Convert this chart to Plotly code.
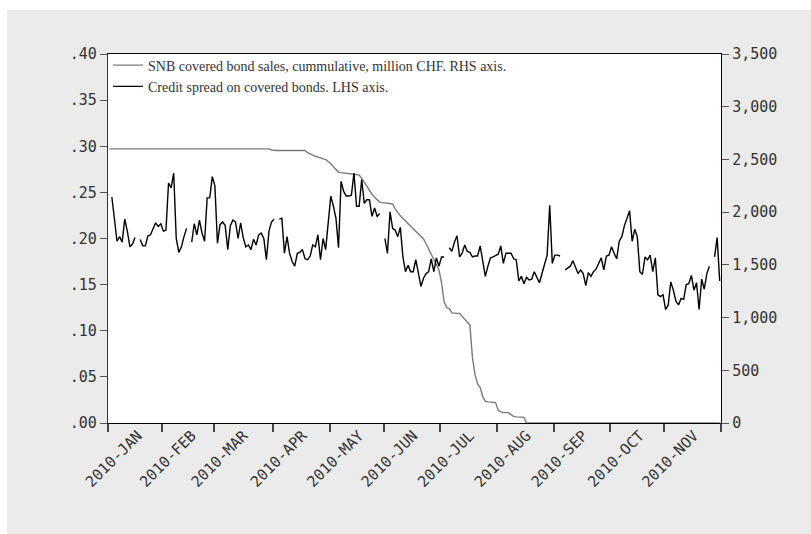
import pandas as pd
import plotly.graph_objects as go

# Business days Jan-Nov 2010 (5-day calendar)
dates = pd.bdate_range("2010-01-01", "2010-11-30")
month_labels = ["2010-JAN", "2010-FEB", "2010-MAR", "2010-APR", "2010-MAY", "2010-JUN",
                "2010-JUL", "2010-AUG", "2010-SEP", "2010-OCT", "2010-NOV"]

left_tickvals = [0.0, 0.05, 0.10, 0.15, 0.20, 0.25, 0.30, 0.35, 0.40]
left_ticktext = [".00", ".05", ".10", ".15", ".20", ".25", ".30", ".35", ".40"]
right_tickvals = [0, 500, 1000, 1500, 2000, 2500, 3000, 3500]

# Credit spread on covered bonds (LHS), None = no observation
spread = [
    None, .245, .220, .197, .202, .196, .221, .208, .191, .194,
    .201, None, .199, .192, .192, .203, .204, .211, .217, .213,
    .216, .208, .209, .260, .255, .271, .200, .185, .191, .202,
    .211, None, .196, .216, .204, .220, .206, .197, .244, .244,
    .267, .257, .195, .215, .218, .214, .188, .214, .220, .218,
    .200, .217, .201, .191, .193, .188, .199, .193, .204, .206,
    .200, .177, .208, .218, .221, None, .221, .222, .184, .202,
    .184, .175, .170, .184, .185, .188, .178, .177, .181, .193,
    .191, .204, .177, .200, .188, .220, .246, .235, .222, .190,
    .262, .251, .246, .246, .247, .271, .235, .235, .264, .238,
    .242, .242, .224, .233, .224, .227, None, .200, .184, .229,
    .211, .209, .202, .212, .180, .164, .171, .164, .164, .177,
    .162, .148, .157, .162, .164, .178, .164, .179, .170, .180,
    .180, None, .190, .186, .196, .203, .180, .184, .193, .186,
    .185, .180, .181, .181, .192, .177, .159, .170, .179, .180,
    .182, .183, .192, .173, .184, .184, .184, .178, .177, .154,
    .159, .151, .158, .155, .156, .164, .158, .152, .162, .173,
    .182, .236, .173, .182, .182, .181, None, .166, .168, .170,
    .176, .168, .162, .166, .162, .149, .163, .159, .164, .167,
    .173, .179, .166, .181, .182, .191, .184, .178, .197, .202,
    .214, .221, .230, .197, .210, .202, .164, .161, .180, .177,
    .182, .164, .179, .139, .137, .139, .123, .128, .153, .144,
    .132, .128, .135, .134, .150, .151, .160, .144, .152, .123,
    .156, .145, .162, .170, None, .180, .201, .154,
]

# SNB covered bond sales, cumulative, million CHF (RHS)
snb = ([2600] * 63 + [2590] + [2585] * 13 + [
    2565, 2550, 2540, 2530, 2525, 2515, 2505, 2500, 2480, 2460,
    2430, 2400, 2380, 2375, 2372, 2370, 2368, 2365, 2362, 2358,
    2352, 2320, 2280, 2245, 2210, 2170, 2140, 2115, 2095, 2090,
    2088, 2085, 2082, 2077, 2030, 1995, 1965, 1940, 1915, 1895,
    1870, 1847, 1820, 1800, 1775, 1745, 1700, 1650, 1610, 1560,
    1510, 1451, 1330, 1150, 1095, 1085, 1045, 1040, 1040, 1040,
    1010, 985, 960, 930, 620, 460, 370, 335, 250, 205,
    200, 198, 196, 193, 120, 105, 100, 99, 98, 80,
    62, 58, 56, 55, 54,
] + [0] * 76)

n = len(dates)
xidx = list(range(n))
snb = snb[:n]
spread = spread[:n]

# month boundaries (tick marks) and label positions
months = dates.to_period("M")
starts = [i for i in range(n) if i == 0 or months[i] != months[i - 1]]
bounds = [s - 0.5 for s in starts] + [n - 0.5]
label_pos = [s + 11.0 for s in starts]

fig = go.Figure()
fig.add_trace(go.Scatter(
    x=xidx, y=snb, mode="lines", yaxis="y",
    name="SNB covered bond sales, cummulative, million CHF. RHS axis.",
    line=dict(color="#7a7a7a", width=1.4),
))
fig.add_trace(go.Scatter(
    x=xidx, y=spread, mode="lines", yaxis="y2", connectgaps=False,
    name="Credit spread on covered bonds. LHS axis.",
    line=dict(color="#000000", width=1.4),
))
# empty helper trace so the month-label axis is drawn
fig.add_trace(go.Scatter(
    x=[], y=[], xaxis="x2", yaxis="y", mode="lines",
    showlegend=False, hoverinfo="skip",
))

tickfont = dict(family="DejaVu Sans Mono", size=15, color="#333333")

fig.update_layout(
    width=811, height=534,
    margin=dict(l=108, r=90, t=54, b=111, autoexpand=False),
    paper_bgcolor="#EBEBEB",
    plot_bgcolor="#FFFFFF",
    showlegend=True,
    legend=dict(
        x=0.0, y=1.012, xanchor="left", yanchor="top",
        bgcolor="rgba(0,0,0,0)", borderwidth=0,
        font=dict(family="Liberation Serif", size=14, color="#333333"),
        itemwidth=30, tracegroupgap=0,
    ),
    xaxis=dict(
        range=[-0.5, n - 0.5], showgrid=False, zeroline=False,
        tickmode="array", tickvals=bounds, ticktext=[""] * len(bounds),
        ticks="outside", ticklen=8, tickwidth=1.5, tickcolor="#444444",
        showline=True, linecolor="#000000", linewidth=1.3, mirror=True,
    ),
    xaxis2=dict(
        overlaying="x", anchor="y", side="bottom",
        range=[-0.5, n - 0.5], showgrid=False, zeroline=False,
        tickmode="array", tickvals=label_pos, ticktext=month_labels,
        tickangle=-45, ticks="", tickfont=tickfont, showline=False,
    ),
    yaxis=dict(
        side="right", range=[0, 3500], tickmode="array", tickvals=right_tickvals,
        tickformat=",d", ticks="outside", ticklen=7, tickcolor="#555555",
        showgrid=False, zeroline=False, tickfont=tickfont,
        showline=True, linecolor="#000000", linewidth=1.3,
    ),
    yaxis2=dict(
        side="left", overlaying="y", range=[0, 0.40], tickmode="array",
        tickvals=left_tickvals, ticktext=left_ticktext,
        ticks="outside", ticklen=7, tickcolor="#555555",
        showgrid=False, zeroline=False, tickfont=tickfont,
        showline=True, linecolor="#333333", linewidth=1.3,
    ),
    shapes=[
        dict(type="rect", xref="paper", yref="paper", layer="above",
             x0=-0.2, x1=(7 - 108) / 613, y0=-0.4, y1=1.3,
             fillcolor="#FFFFFF", line=dict(width=0)),
        dict(type="rect", xref="paper", yref="paper", layer="above",
             x0=-0.2, x1=1.3, y0=(423 - 10) / 369, y1=1.3,
             fillcolor="#FFFFFF", line=dict(width=0)),
    ],
)

fig.write_html("out.html")
